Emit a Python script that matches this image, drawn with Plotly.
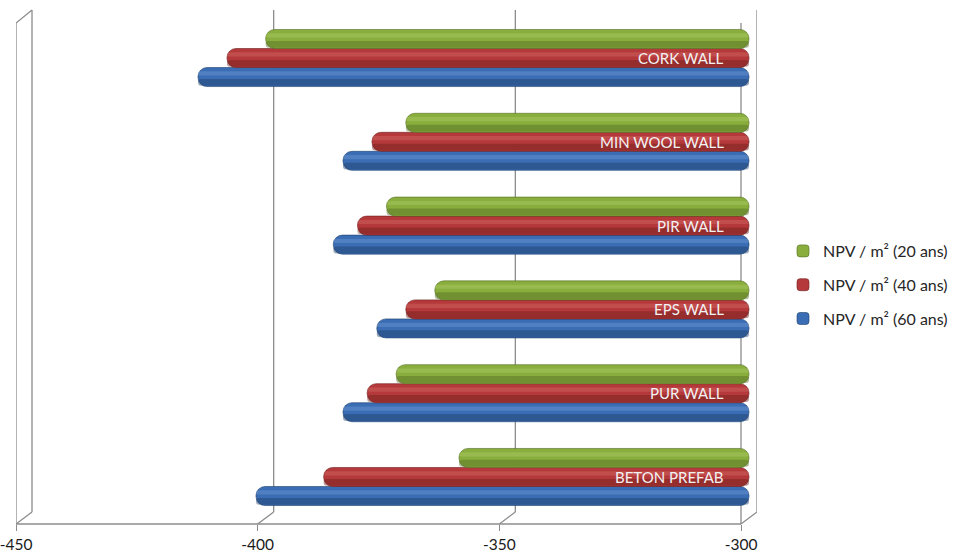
import plotly.graph_objects as go

categories = ["BETON PREFAB", "PUR WALL", "EPS WALL", "PIR WALL", "MIN WOOL WALL", "CORK WALL"]
npv_20 = [-360, -373, -365, -375, -371, -400]
npv_40 = [-388, -379, -371, -381, -378, -408]
npv_60 = [-402, -384, -377, -386, -384, -414]
series_names = ["NPV / m² (60 ans)", "NPV / m² (40 ans)", "NPV / m² (20 ans)"]
x_ticks = [-450, -400, -350, -300]

BASE = -300
# plot area geometry (pixels)
L, R, T, B = 16, 757, 10, 524
W, H = R - L, B - T
DEPTH = 16          # 3D depth shift in px
PPU = 725 / 150     # px per unit on the front axis

front_range = [-450, -450 + W / PPU]
back_range = [-300 - W / PPU, -300]
mid_range = [-300 - (749 - L) / PPU, -300 + (R - 749) / PPU]

colors = {
    "NPV / m² (60 ans)": ("#1f3f6b", "#3a6db3", "#7aa3dc"),
    "NPV / m² (40 ans)": ("#6e1f1f", "#b5393a", "#d87272"),
    "NPV / m² (20 ans)": ("#526d22", "#8aae3e", "#b4d16e"),
}
values = {"NPV / m² (60 ans)": npv_60, "NPV / m² (40 ans)": npv_40, "NPV / m² (20 ans)": npv_20}
legend_rank = {"NPV / m² (20 ans)": 1, "NPV / m² (40 ans)": 2, "NPV / m² (60 ans)": 3}

bw = 0.227
offsets = {"NPV / m² (60 ans)": -1.5 * bw, "NPV / m² (40 ans)": -0.5 * bw, "NPV / m² (20 ans)": 0.5 * bw}

fig = go.Figure()
for name in series_names:
    dark, main, light = colors[name]
    vals = values[name]
    lengths = [v - BASE for v in vals]
    off = offsets[name]
    fig.add_trace(go.Bar(
        y=categories, x=lengths, base=BASE, orientation="h", name=name,
        offset=off, width=bw,
        marker=dict(color=main, cornerradius=9, line=dict(width=0.6, color=dark)),
        xaxis="x2", legendgroup=name, legendrank=legend_rank[name], showlegend=True,
    ))
    fig.add_trace(go.Bar(
        y=categories, x=lengths, base=BASE, orientation="h", name=name,
        offset=off + 0.04 * bw, width=0.36 * bw,
        marker=dict(color=dark, cornerradius=3, line=dict(width=0), opacity=0.45),
        xaxis="x2", legendgroup=name, showlegend=False, hoverinfo="skip",
    ))
    fig.add_trace(go.Bar(
        y=categories, x=lengths, base=BASE, orientation="h", name=name,
        offset=off + 0.58 * bw, width=0.22 * bw,
        marker=dict(color=light, cornerradius=2, line=dict(width=0), opacity=0.35),
        xaxis="x2", legendgroup=name, showlegend=False, hoverinfo="skip",
    ))

# category labels placed on the bar side of the value axis
annotations = []
for cat in categories:
    annotations.append(dict(
        x=BASE, y=cat, xref="x2", yref="y", xanchor="right", yanchor="middle",
        xshift=-23, showarrow=False, text=cat,
        font=dict(size=15, color="#f2f2f2", family="Lato, 'Open Sans', sans-serif"),
    ))

GRID = "#8c8c8c"
shapes = []
yb = (B - 512) / H   # back wall bottom
yf = (B - 23) / H    # front frame top
for v in x_ticks:
    shapes.append(dict(type="line", xref="x3", yref="paper", x0=v, x1=v, y0=yb, y1=1,
                       line=dict(color=GRID, width=1.3), layer="below"))
for v in [-450, -300]:
    shapes.append(dict(type="line", xref="x", yref="paper", x0=v, x1=v, y0=0, y1=yf,
                       line=dict(color=GRID, width=1.3), layer="below"))
shapes.append(dict(type="line", xref="x", yref="paper", x0=-450, x1=-300, y0=0, y1=0,
                   line=dict(color=GRID, width=1.3), layer="below"))
for v in x_ticks:
    shapes.append(dict(type="line", xref="x", xsizemode="pixel", xanchor=v, x0=0, x1=DEPTH,
                       yref="paper", y0=0, y1=yb, line=dict(color=GRID, width=1.3), layer="below"))
shapes.append(dict(type="line", xref="x", xsizemode="pixel", xanchor=-450, x0=0, x1=DEPTH,
                   yref="paper", y0=yf, y1=1, line=dict(color=GRID, width=1.3), layer="below"))

fig.update_layout(
    width=956, height=558,
    margin=dict(l=L, r=956 - R, t=T, b=558 - B, pad=0, autoexpand=False),
    paper_bgcolor="white", plot_bgcolor="rgba(0,0,0,0)",
    barmode="overlay",
    font=dict(family="Lato, 'Open Sans', sans-serif", color="#262626"),
    xaxis=dict(range=front_range, tickvals=x_ticks, ticktext=[str(t) for t in x_ticks],
               showgrid=False, zeroline=False, showline=False,
               ticks="outside", ticklen=6, tickcolor=GRID, tickwidth=1.3,
               tickfont=dict(size=15.5, color="#1a1a1a"), fixedrange=True,
               ticklabeloverflow="allow"),
    xaxis2=dict(range=mid_range, overlaying="x", visible=False, fixedrange=True),
    xaxis3=dict(range=back_range, overlaying="x", visible=False, fixedrange=True),
    yaxis=dict(type="category", categoryorder="array", categoryarray=categories,
               range=[-0.561, 5.573], showticklabels=False, ticks="",
               showgrid=False, zeroline=False, showline=False, fixedrange=True),
    legend=dict(x=(783 - L) / W, y=(B - 285) / H, xanchor="left", yanchor="middle",
                traceorder="grouped", tracegroupgap=10,
                font=dict(size=16, color="#262626"), bgcolor="rgba(0,0,0,0)"),
    shapes=shapes,
    annotations=annotations,
    showlegend=True,
)

fig.write_html("out.html")
